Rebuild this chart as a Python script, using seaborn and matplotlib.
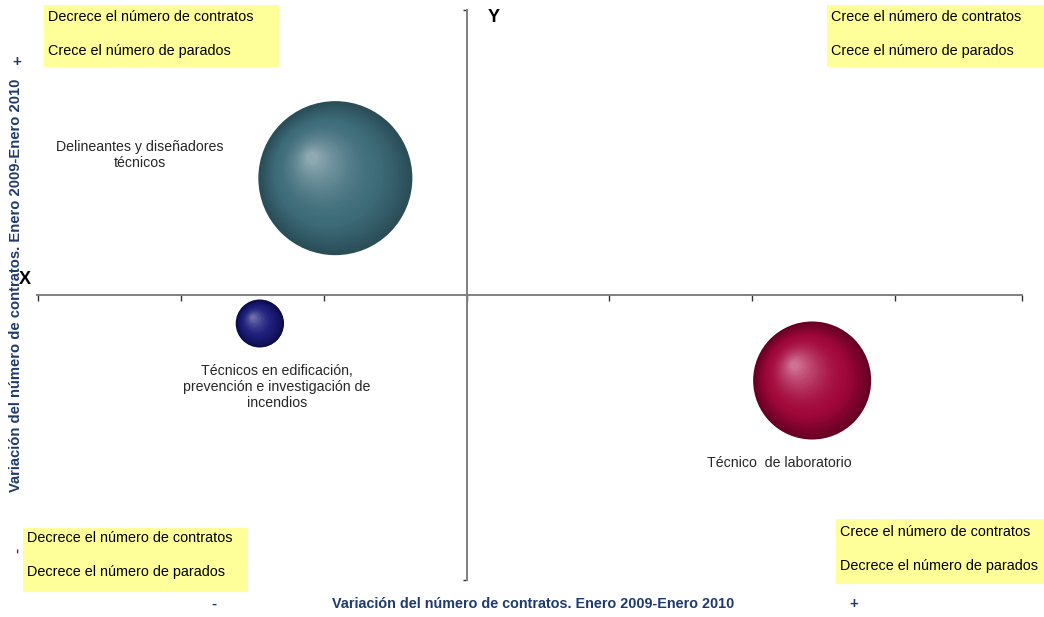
import numpy as np
import pandas as pd
import matplotlib
matplotlib.use("Agg")
import matplotlib.pyplot as plt
import matplotlib.transforms as mtransforms
from matplotlib.colors import to_rgb
from matplotlib.patches import Rectangle
import seaborn as sns

# bubble data (x: variation of contracts, y: variation of unemployed, size: relative weight)
ocupaciones = ['Delineantes y diseñadores técnicos',
               'Técnicos en edificación, prevención e investigación de incendios',
               'Técnico de laboratorio']
var_contratos = [-0.92, -1.45, 2.42]
var_parados = [0.41, -0.10, -0.30]
peso = [100.0, 9.7, 58.7]

etiquetas = ['Delineantes y diseñadores\ntécnicos',
             'Técnicos en edificación,\nprevención e investigación de\nincendios',
             'Técnico  de laboratorio']

cuadrantes = [
    ('Decrece el número de contratos', 'Crece el número de parados'),
    ('Crece el número de contratos', 'Crece el número de parados'),
    ('Decrece el número de contratos', 'Decrece el número de parados'),
    ('Crece el número de contratos', 'Decrece el número de parados'),
]

df = pd.DataFrame({'ocupacion': ocupaciones, 'x': var_contratos,
                   'y': var_parados, 'peso': peso})

# colours: edge, base, highlight
colores = [('#2a4d57', '#3e6d7a', '#8ea9b1'),
           ('#0c0c48', '#1d1d7a', '#7070ad'),
           ('#650023', '#a2083b', '#cf7193')]

W, H = 1044, 617
sns.set_style('white')
plt.rcParams['font.family'] = ['Liberation Sans', 'DejaVu Sans']

fig = plt.figure(figsize=(W / 100, H / 100), dpi=100)
ax = fig.add_axes([37 / W, 1 - 580 / H, (1022 - 37) / W, (580 - 10) / H])

S_MIN, S_MAX = 1194, 12300
sns.scatterplot(data=df, x='x', y='y', size='peso', sizes=(S_MIN, S_MAX),
                size_norm=(min(peso), max(peso)), hue='ocupacion',
                palette=[c[0] for c in colores], legend=False,
                linewidth=0, ax=ax, clip_on=False, zorder=3)

# fake radial gradient for sphere look
def mezcla(a, b, t):
    a, b = np.array(to_rgb(a)), np.array(to_rgb(b))
    return tuple(a + (b - a) * t)

N = 45
for xi, yi, pi, (c_edge, c_base, c_hi) in zip(var_contratos, var_parados, peso, colores):
    s = S_MIN + (pi - min(peso)) / (max(peso) - min(peso)) * (S_MAX - S_MIN)
    R = np.sqrt(s) / 2
    hx, hy = -0.33 * R, 0.29 * R
    for k in range(1, N):
        t = k / (N - 1)
        r = 1 - 0.93 * t
        if t < 0.35:
            col = mezcla(c_edge, c_base, t / 0.35)
        else:
            col = mezcla(c_base, c_hi, ((t - 0.35) / 0.65) ** 1.6)
        tr = mtransforms.offset_copy(ax.transData, fig=fig,
                                     x=(1 - r) * hx, y=(1 - r) * hy, units='points')
        ax.scatter([xi], [yi], s=(2 * r * R) ** 2, color=col, linewidths=0,
                   transform=tr, zorder=3 + k * 0.001, clip_on=False)

# axes crossing at zero
ax.set_xlim(-3.01, 3.89)
ax.set_ylim(-1, 1)
ax.spines['left'].set_position(('data', 0))
ax.spines['bottom'].set_position(('data', 0))
ax.spines['right'].set_visible(False)
ax.spines['top'].set_visible(False)
for sp in ['left', 'bottom']:
    ax.spines[sp].set_color('#808080')
    ax.spines[sp].set_linewidth(1.4)
ax.set_xticks([-3, -2, -1, 0, 1, 2, 3, 3.89])
ax.set_yticks([-1, 1])
ax.tick_params(axis='x', direction='out', length=4, width=1, color='#333333',
               labelbottom=False, bottom=True)
ax.tick_params(axis='y', direction='out', length=3, width=1, color='#333333',
               labelleft=False, left=True)
ax.set_xlabel('')
ax.set_ylabel('')
ax.patch.set_alpha(0)

def fx(px):
    return px / W

def fy(py):
    return 1 - py / H

# quadrant notes (yellow boxes)
cajas = [(44, 5, 235, 62, 48, 17, 51),
         (827, 5, 217, 62, 831, 17, 51),
         (23, 528, 225, 64, 27, 538, 572),
         (836, 519, 208, 65, 840, 532, 566)]
for (bx, by, bw, bh, tx, ty1, ty2), (l1, l2) in zip(cajas, cuadrantes):
    fig.patches.append(Rectangle((fx(bx), fy(by + bh)), bw / W, bh / H,
                                 transform=fig.transFigure, facecolor='#ffff99',
                                 edgecolor='none', zorder=0))
    fig.text(fx(tx), fy(ty1), l1, fontsize=10.4, va='center', ha='left', color='black')
    fig.text(fx(tx), fy(ty2), l2, fontsize=10.4, va='center', ha='left', color='black')

# bubble labels
pos_etq = [(140, 155), (277, 387), (779, 463)]
for (px, py), txt in zip(pos_etq, etiquetas):
    fig.text(fx(px), fy(py), txt, fontsize=10.2, ha='center', va='center',
             color='#262626', linespacing=1.15)

# axis titles and signs
azul = '#1f3b6b'
fig.text(fx(533), fy(604), 'Variación del número de contratos. Enero 2009-Enero 2010',
         fontsize=10.4, fontweight='bold', color=azul, ha='center', va='center')
fig.text(fx(16), fy(285), 'Variación del número de contratos. Enero 2009-Enero 2010',
         fontsize=10.6, fontweight='bold', color=azul, ha='center', va='center',
         rotation=90)
fig.text(fx(214), fy(604), '-', fontsize=11, fontweight='bold', color=azul,
         ha='center', va='center')
fig.text(fx(854), fy(604), '+', fontsize=11, fontweight='bold', color=azul,
         ha='center', va='center')
fig.text(fx(17), fy(62), '+', fontsize=11, fontweight='bold', color=azul,
         ha='center', va='center')
fig.text(fx(17), fy(550), '-', fontsize=11, fontweight='bold', color=azul,
         ha='center', va='center', rotation=90)
fig.text(fx(25), fy(280), 'X', fontsize=13, fontweight='bold', color='black',
         ha='center', va='center')
fig.text(fx(494), fy(17), 'Y', fontsize=13, fontweight='bold', color='black',
         ha='center', va='center')

fig.savefig('out.png', dpi=100)
